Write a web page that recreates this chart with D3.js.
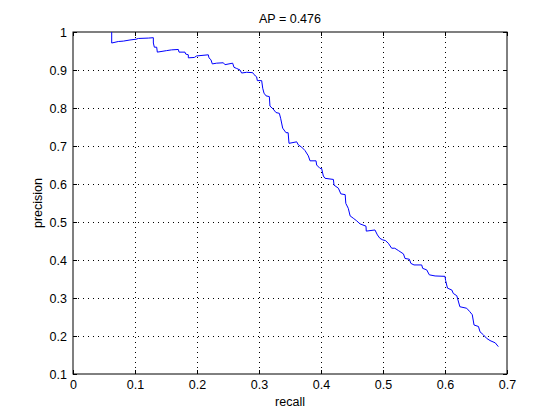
<!DOCTYPE html>
<html>
<head>
<meta charset="utf-8">
<script src="https://cdn.jsdelivr.net/npm/d3@7"></script>
<style>
  body { margin: 0; background: #fff; }
  text { font-family: "Liberation Sans", Arial, Helvetica, sans-serif; font-size: 12.5px; fill: #000; }
</style>
</head>
<body>
<div id="wrapper"></div>
<script>
// recall / precision pairs
const recall = [
    0.0624, 0.0624, 0.0731, 0.0812, 0.0919, 0.1016, 0.1054, 0.1215, 0.1296, 0.1296,
    0.1312, 0.1350, 0.1360, 0.1510, 0.1590, 0.1699, 0.1710, 0.1806, 0.1817, 0.1860,
    0.1860, 0.1957, 0.1994, 0.2182, 0.2193, 0.2225, 0.2247, 0.2317, 0.2425, 0.2451,
    0.2575, 0.2597, 0.2640, 0.2694, 0.2720, 0.2801, 0.2898, 0.2919, 0.2962, 0.2973,
    0.3043, 0.3060, 0.3081, 0.3113, 0.3167, 0.3177, 0.3230, 0.3274, 0.3328, 0.3349,
    0.3382, 0.3435, 0.3470, 0.3484, 0.3608, 0.3634, 0.3688, 0.3742, 0.3796, 0.3823,
    0.3920, 0.3930, 0.3984, 0.4010, 0.4038, 0.4065, 0.4200, 0.4210, 0.4280, 0.4320,
    0.4390, 0.4400, 0.4440, 0.4470, 0.4520, 0.4576, 0.4630, 0.4726, 0.4730, 0.4870,
    0.4910, 0.4950, 0.4995, 0.5040, 0.5086, 0.5140, 0.5190, 0.5247, 0.5330, 0.5355,
    0.5425, 0.5450, 0.5500, 0.5624, 0.5640, 0.5705, 0.5747, 0.5840, 0.6000, 0.6010,
    0.6040, 0.6110, 0.6134, 0.6190, 0.6240, 0.6350, 0.6400, 0.6440, 0.6468, 0.6540,
    0.6565, 0.6620, 0.6670, 0.6726, 0.6810, 0.6860
];
const precision = [
    1.000, 0.971, 0.975, 0.976, 0.979, 0.981, 0.983, 0.984, 0.985, 0.971,
    0.960, 0.960, 0.947, 0.951, 0.953, 0.954, 0.947, 0.947, 0.942, 0.940,
    0.932, 0.933, 0.937, 0.940, 0.932, 0.927, 0.916, 0.918, 0.919, 0.914,
    0.918, 0.907, 0.904, 0.900, 0.892, 0.894, 0.893, 0.888, 0.882, 0.872,
    0.872, 0.852, 0.839, 0.832, 0.830, 0.805, 0.797, 0.788, 0.786, 0.773,
    0.747, 0.735, 0.735, 0.707, 0.711, 0.703, 0.697, 0.688, 0.674, 0.661,
    0.661, 0.650, 0.641, 0.641, 0.621, 0.615, 0.612, 0.597, 0.589, 0.574,
    0.572, 0.549, 0.536, 0.516, 0.510, 0.503, 0.495, 0.489, 0.476, 0.479,
    0.466, 0.457, 0.453, 0.451, 0.444, 0.431, 0.431, 0.425, 0.416, 0.404,
    0.402, 0.391, 0.387, 0.387, 0.378, 0.374, 0.361, 0.358, 0.357, 0.346,
    0.326, 0.321, 0.312, 0.306, 0.277, 0.273, 0.264, 0.256, 0.229, 0.225,
    0.211, 0.203, 0.194, 0.188, 0.182, 0.172
];

const xTicks = [0, 0.1, 0.2, 0.3, 0.4, 0.5, 0.6, 0.7];
const xTickLabels = ["0", "0.1", "0.2", "0.3", "0.4", "0.5", "0.6", "0.7"];
const yTicks = [0.1, 0.2, 0.3, 0.4, 0.5, 0.6, 0.7, 0.8, 0.9, 1];
const yTickLabels = ["0.1", "0.2", "0.3", "0.4", "0.5", "0.6", "0.7", "0.8", "0.9", "1"];

const titleText = "AP = 0.476";
const xLabel = "recall";
const yLabel = "precision";

var dimension = {
    width: 560,
    height: 420,
    margin: {
        top: 32,
        right: 53,
        bottom: 46,
        left: 73
    }
}
dimension.boundedWidth = dimension.width - dimension.margin.left - dimension.margin.right;
dimension.boundedHeight = dimension.height - dimension.margin.top - dimension.margin.bottom;

const x = d3.scaleLinear().domain([0, 0.7]).range([0, dimension.boundedWidth]);
const y = d3.scaleLinear().domain([0.1, 1]).range([dimension.boundedHeight, 0]);

const pts = recall.map((r, i) => ({ r, p: precision[i] }));

const svg = d3.select("#wrapper")
    .append("svg")
    .attr("width", dimension.width)
    .attr("height", dimension.height);

svg.append("rect")
    .attr("width", dimension.width)
    .attr("height", dimension.height)
    .attr("fill", "#fff");

const bounds = svg.append("g")
    .attr("transform", `translate(${dimension.margin.left},${dimension.margin.top})`);

// dotted grid on inner ticks
bounds.append("g")
    .selectAll("line")
    .data(xTicks.slice(1, -1))
    .enter()
    .append("line")
    .attr("x1", d => Math.round(x(d)) + 0.5)
    .attr("x2", d => Math.round(x(d)) + 0.5)
    .attr("y1", 0)
    .attr("y2", dimension.boundedHeight)
    .attr("stroke", "#000")
    .attr("stroke-dasharray", "1,4");

bounds.append("g")
    .selectAll("line")
    .data(yTicks.slice(1, -1))
    .enter()
    .append("line")
    .attr("y1", d => Math.round(y(d)) + 0.5)
    .attr("y2", d => Math.round(y(d)) + 0.5)
    .attr("x1", 0)
    .attr("x2", dimension.boundedWidth)
    .attr("stroke", "#000")
    .attr("stroke-dasharray", "1,4");

// axes, ticks pointing inward
const fmtX = d => xTickLabels[xTicks.indexOf(d)];
const fmtY = d => yTickLabels[yTicks.indexOf(d)];

const xAxis = bounds.append("g")
    .attr("transform", `translate(0,${dimension.boundedHeight})`)
    .call(d3.axisBottom(x).tickValues(xTicks).tickFormat(fmtX).tickSize(-4).tickSizeOuter(0).tickPadding(6));
const xAxisTop = bounds.append("g")
    .call(d3.axisTop(x).tickValues(xTicks).tickFormat("").tickSize(-4).tickSizeOuter(0));
const yAxis = bounds.append("g")
    .call(d3.axisLeft(y).tickValues(yTicks).tickFormat(fmtY).tickSize(-4).tickSizeOuter(0).tickPadding(6));
const yAxisRight = bounds.append("g")
    .attr("transform", `translate(${dimension.boundedWidth},0)`)
    .call(d3.axisRight(y).tickValues(yTicks).tickFormat("").tickSize(-4).tickSizeOuter(0));

svg.selectAll(".domain").remove();
svg.selectAll(".tick text")
    .attr("font-size", null)
    .attr("font-family", null);

bounds.append("rect")
    .attr("x", 0)
    .attr("y", 0)
    .attr("width", dimension.boundedWidth)
    .attr("height", dimension.boundedHeight)
    .attr("fill", "none")
    .attr("stroke", "#000");

// PR curve
const line = d3.line()
    .x(d => x(d.r))
    .y(d => y(d.p));

bounds.append("path")
    .datum(pts)
    .attr("d", line)
    .attr("fill", "none")
    .attr("stroke", "#0000ff")
    .attr("stroke-width", 1);

// labels
svg.append("text")
    .attr("x", dimension.margin.left + dimension.boundedWidth / 2)
    .attr("y", 23)
    .style("text-anchor", "middle")
    .text(titleText);

svg.append("text")
    .attr("x", dimension.margin.left + dimension.boundedWidth / 2)
    .attr("y", 406)
    .style("text-anchor", "middle")
    .text(xLabel);

svg.append("text")
    .attr("transform", `translate(42,${dimension.margin.top + dimension.boundedHeight / 2}) rotate(-90)`)
    .style("text-anchor", "middle")
    .text(yLabel);
</script>
</body>
</html>
